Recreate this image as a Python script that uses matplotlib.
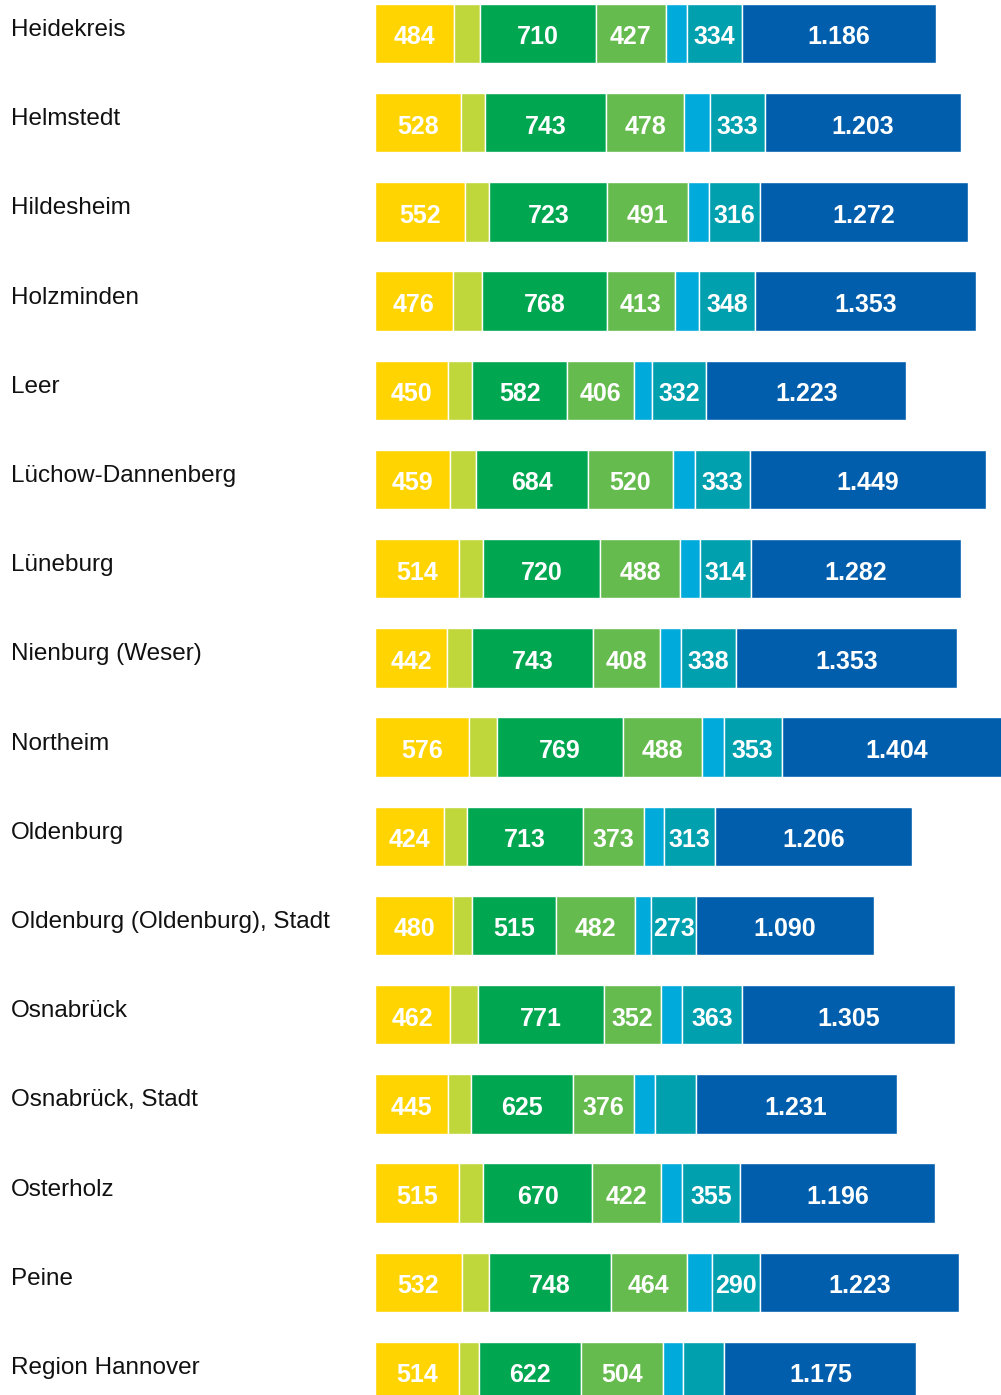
import matplotlib
matplotlib.use("Agg")
import matplotlib.pyplot as plt
from matplotlib.transforms import blended_transform_factory

categories = ["Heidekreis", "Helmstedt", "Hildesheim", "Holzminden", "Leer",
              "Lüchow-Dannenberg", "Lüneburg", "Nienburg (Weser)", "Northeim",
              "Oldenburg", "Oldenburg (Oldenburg), Stadt", "Osnabrück",
              "Osnabrück, Stadt", "Osterholz", "Peine", "Region Hannover"]

s_yellow = [484, 528, 552, 476, 450, 459, 514, 442, 576, 424, 480, 462, 445, 515, 532, 514]
s_lightgreen = [160, 144, 148, 178, 146, 162, 146, 152, 172, 138, 115, 168, 140, 146, 165, 123]
s_green = [710, 743, 723, 768, 582, 684, 720, 743, 769, 713, 515, 771, 625, 670, 748, 622]
s_midgreen = [427, 478, 491, 413, 406, 520, 488, 408, 488, 373, 482, 352, 376, 422, 464, 504]
s_lightblue = [132, 160, 130, 147, 113, 136, 123, 130, 132, 123, 101, 130, 130, 128, 156, 123]
s_teal = [334, 333, 316, 348, 332, 333, 314, 338, 353, 313, 273, 363, 248, 355, 290, 254]
s_darkblue = [1186, 1203, 1272, 1353, 1223, 1449, 1282, 1353, 1404, 1206, 1090, 1305, 1231, 1196, 1223, 1175]

series = [s_yellow, s_lightgreen, s_green, s_midgreen, s_lightblue, s_teal, s_darkblue]
colors = ["#FFD400", "#BFD73A", "#00A650", "#66BB4E", "#00AADB", "#00A0AF", "#005EAD"]
labelled = [True, False, True, True, False, True, True]
# teal values that are not printed in the original
teal_hidden = {"Osnabrück, Stadt", "Region Hannover"}


def fmt(v):
    return f"{v:,}".replace(",", ".")


fig = plt.figure(figsize=(10.01, 13.95), dpi=100)
ax = fig.add_axes([375 / 1001, 0, 1 - 375 / 1001, 1])

px_per_row = 89.2
top = -33.5 / px_per_row
ax.set_ylim(top + 1395 / px_per_row, top)
ax.set_xlim(0, 626 / 0.1633)
ax.axis("off")

ys = list(range(len(categories)))
left = [0] * len(categories)
for k, (vals, col) in enumerate(zip(series, colors)):
    ax.barh(ys, vals, left=left, height=0.665, color=col,
            edgecolor="white", linewidth=1.0, clip_on=True)
    if labelled[k]:
        for i, v in enumerate(vals):
            if k == 5 and categories[i] in teal_hidden:
                continue
            t = ax.text(left[i] + v / 2, ys[i] + 0.015, fmt(v), ha="center",
                        va="center_baseline",
                        color="white", fontsize=18, fontweight="bold",
                        family="Liberation Sans")
            t.set_clip_on(False)
    left = [a + b for a, b in zip(left, vals)]

trans = blended_transform_factory(fig.transFigure, ax.transData)
for i, c in enumerate(categories):
    ax.text(11 / 1001, ys[i] + 0.028, c, transform=trans, ha="left", va="baseline",
            fontsize=17.5, color="#111111", family="Liberation Sans", clip_on=False)

fig.savefig("out.png", dpi=100)
